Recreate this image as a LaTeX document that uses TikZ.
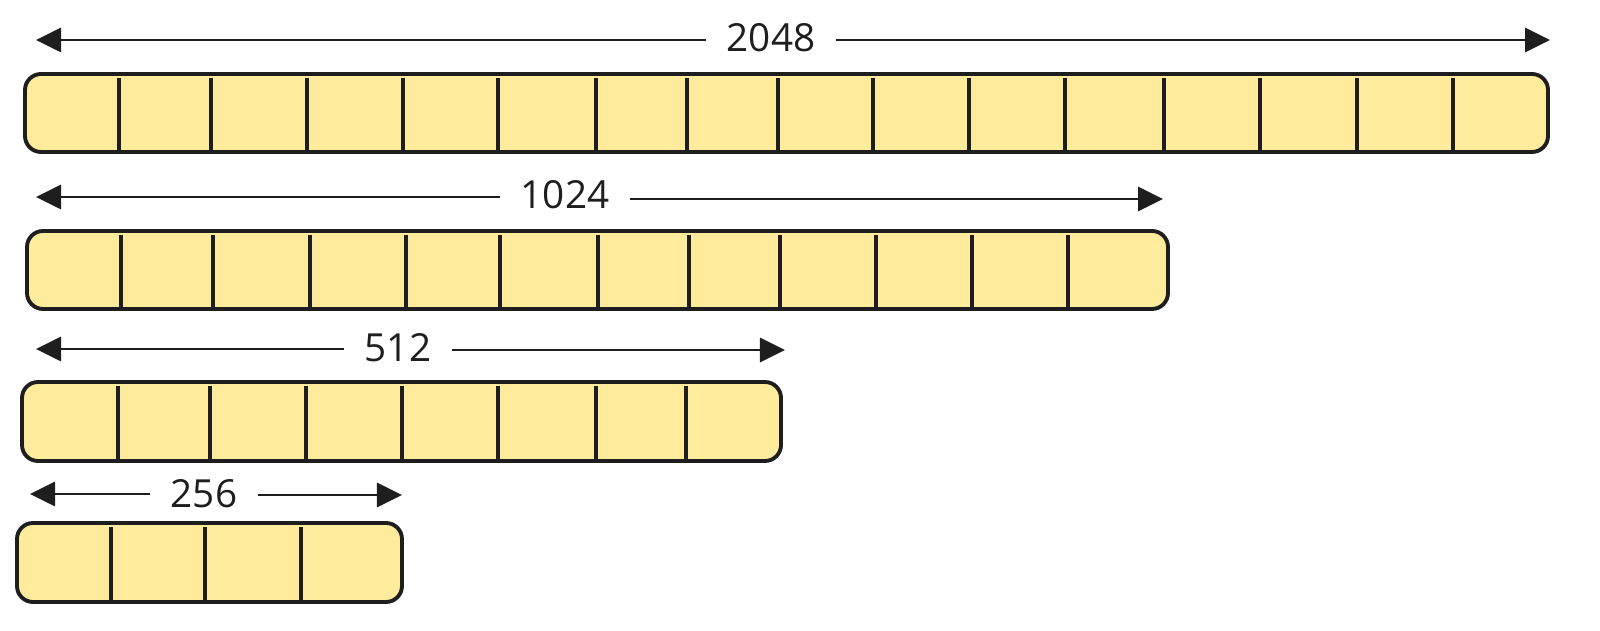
\documentclass[tikz,border=0pt]{standalone}
\usepackage{fontspec}
\setmainfont{Open Sans}
\usetikzlibrary{arrows.meta}
\definecolor{barfill}{RGB}{254,235,155}
\definecolor{ink}{RGB}{30,30,30}
\tikzset{
  bar/.style={draw=ink, fill=barfill, line width=1.1pt, rounded corners=0.16cm, inner sep=0pt},
  divider/.style={draw=ink, line width=1.1pt},
  dim/.style={draw=ink, line width=0.8pt, -{Triangle[length=0.25cm,width=0.24cm]}},
  dimlabel/.style={font=\fontsize{11}{13}\selectfont, text=ink, inner xsep=0.2cm, inner ysep=0pt}
}
\begin{document}
\begin{tikzpicture}[x=0.01cm,y=-0.01cm]
\useasboundingbox (0,0) rectangle (1600,631);
% row 1
\draw[bar] (25,74) rectangle (1548,152);
\foreach \x in {119,211,307,403,498,596,687,778,873,969,1065,1164,1260,1357,1453}
  \draw[divider] (\x,78) -- (\x,152);
\node[dimlabel] (l1) at (771,38) {2048};
\coordinate (l1a) at (36,40);
\coordinate (l1b) at (1550,40);
\draw[dim] (l1.west |- l1a) -- (l1a);
\draw[dim] (l1.east |- l1b) -- (l1b);
% row 2
\draw[bar] (27,231) rectangle (1168,309);
\foreach \x in {121,213,310,406,500,598,689,780,876,972,1068}
  \draw[divider] (\x,235) -- (\x,309);
\node[dimlabel] (l2) at (565,195) {1024};
\coordinate (l2a) at (36,197);
\coordinate (l2b) at (1163,199);
\draw[dim] (l2.west |- l2a) -- (l2a);
\draw[dim] (l2.east |- l2b) -- (l2b);
% row 3
\draw[bar] (22,382) rectangle (781,461);
\foreach \x in {118,210,306,402,498,596,686}
  \draw[divider] (\x,386) -- (\x,461);
\node[dimlabel] (l3) at (398,348) {512};
\coordinate (l3a) at (36,349);
\coordinate (l3b) at (785,350);
\draw[dim] (l3.west |- l3a) -- (l3a);
\draw[dim] (l3.east |- l3b) -- (l3b);
% row 4
\draw[bar] (17,523) rectangle (402,602);
\foreach \x in {111,205,301}
  \draw[divider] (\x,527) -- (\x,602);
\node[dimlabel] (l4) at (204,494) {256};
\coordinate (l4a) at (30,494);
\coordinate (l4b) at (402,495);
\draw[dim] (l4.west |- l4a) -- (l4a);
\draw[dim] (l4.east |- l4b) -- (l4b);
\end{tikzpicture}
\end{document}
